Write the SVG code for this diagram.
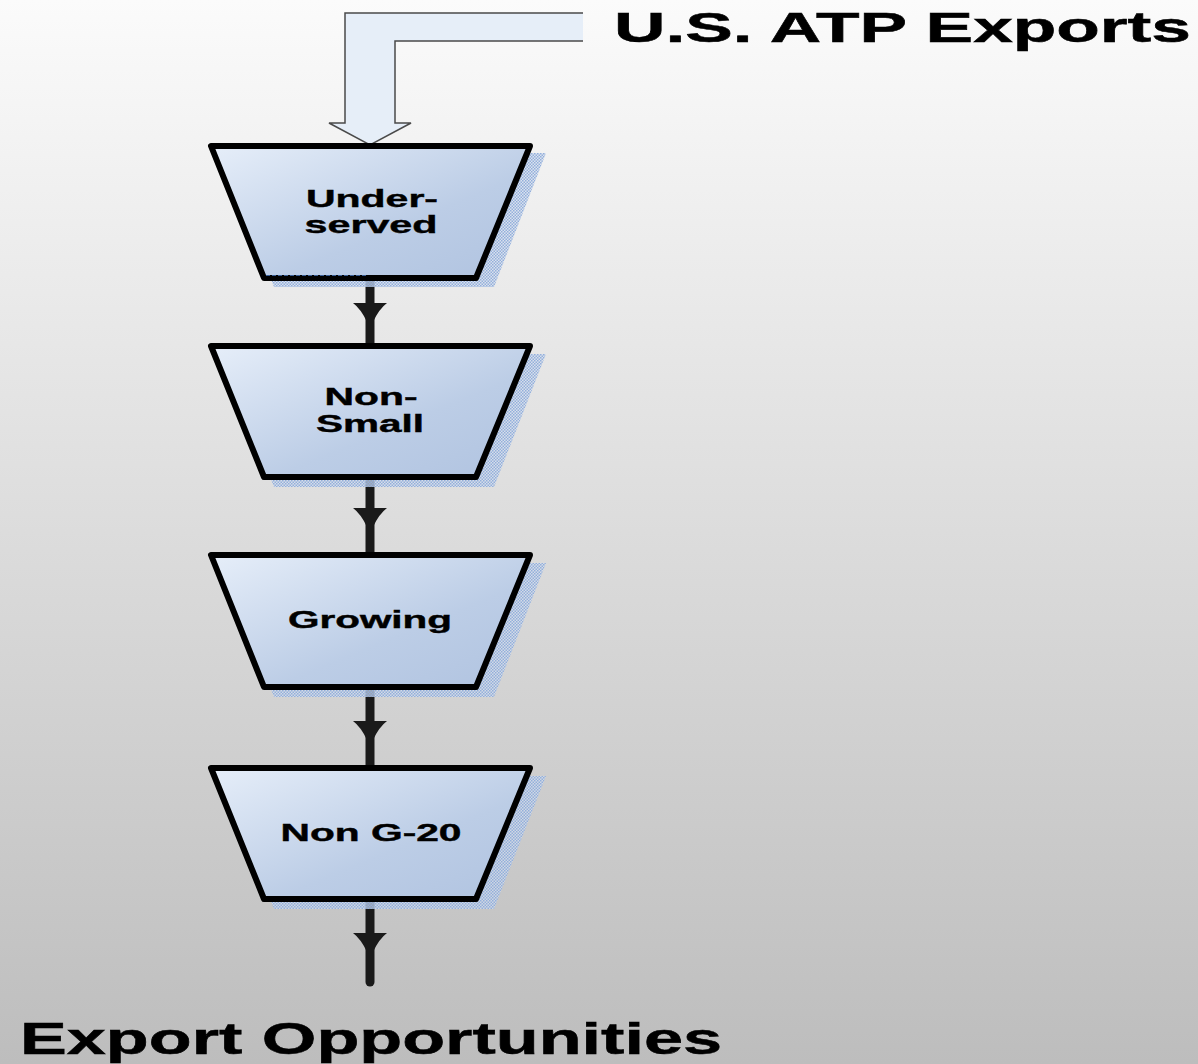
<svg xmlns="http://www.w3.org/2000/svg" width="1198" height="1064" viewBox="0 0 1198 1064">
<defs>
<linearGradient id="bg" x1="0" y1="0" x2="0" y2="1">
<stop offset="0" stop-color="#fbfbfb"/>
<stop offset="1" stop-color="#bdbdbd"/>
</linearGradient>
<linearGradient id="nodefill" x1="0" y1="0" x2="1" y2="1">
<stop offset="0" stop-color="#e6eef9"/>
<stop offset="0.6" stop-color="#bccde6"/>
<stop offset="1" stop-color="#b0c3e0"/>
</linearGradient>
<pattern id="shadowpat" width="3" height="3" patternUnits="userSpaceOnUse">
<rect width="3" height="3" fill="#d3deee" fill-opacity="0.7"/>
<rect width="1.5" height="1.5" fill="#93afdb"/>
<rect x="1.5" y="1.5" width="1.5" height="1.5" fill="#93afdb"/>
</pattern>
<path id="ahead" d="M-17,-9 L17,-9 Q9,-3 3,10 L-3,10 Q-9,-3 -17,-9 Z"/>
</defs>
<style>
.shadow{fill:url(#shadowpat);}
.node{fill:url(#nodefill);stroke:#000;stroke-width:6;stroke-linejoin:round;}
.lbl{font-family:"Liberation Sans",Arial,sans-serif;font-weight:bold;font-size:24px;fill:#000;stroke:#000;stroke-width:0.4;}
.title{font-family:"Liberation Sans",Arial,sans-serif;font-weight:bold;fill:#000;stroke:#000;stroke-width:0.5;}
.conn{stroke:#1a1a1a;stroke-width:9;stroke-linecap:round;fill:none;}
.head{fill:#1a1a1a;}
</style>
<rect width="1198" height="1064" fill="url(#bg)"/>

<g id="input-arrow">
<path d="M583,13 L345,13 L345,123 L329,123 L370,145 L411,123 L395,123 L395,41 L583,41" fill="#e6eef8" stroke="#4a4a4a" stroke-width="1.5"/>
</g>

<g id="connectors">
<line class="conn" x1="370" y1="280" x2="370" y2="344"/>
<use href="#ahead" class="head" x="370" y="312"/>
<line class="conn" x1="370" y1="479" x2="370" y2="553"/>
<use href="#ahead" class="head" x="370" y="517"/>
<line class="conn" x1="370" y1="689" x2="370" y2="766"/>
<use href="#ahead" class="head" x="370" y="730"/>
<line class="conn" x1="370" y1="902" x2="370" y2="982"/>
<use href="#ahead" class="head" x="370" y="942"/>
</g>

<g id="node-underserved">
<polygon class="shadow" points="222,153 546,153 494,287 274,287"/>
<polygon class="node" points="211,146 530,146 476,278 264,278"/>
<line x1="266" y1="275.5" x2="368" y2="275.5" stroke="#3a5f96" stroke-width="1" stroke-dasharray="4,2"/>
<text class="lbl" x="372" y="207" text-anchor="middle" textLength="132" lengthAdjust="spacingAndGlyphs">Under-</text>
<text class="lbl" x="371" y="233" text-anchor="middle" textLength="133" lengthAdjust="spacingAndGlyphs">served</text>
</g>

<g id="node-nonsmall">
<polygon class="shadow" points="222,354 546,354 494,487 274,487"/>
<polygon class="node" points="211,346 530,346 476,477 264,477"/>
<text class="lbl" x="371" y="405" text-anchor="middle" textLength="93" lengthAdjust="spacingAndGlyphs">Non-</text>
<text class="lbl" x="370" y="432" text-anchor="middle" textLength="108" lengthAdjust="spacingAndGlyphs">Small</text>
</g>

<g id="node-growing">
<polygon class="shadow" points="222,563 546,563 494,697 274,697"/>
<polygon class="node" points="211,555 530,555 476,687 264,687"/>
<text class="lbl" x="370" y="628" text-anchor="middle" textLength="164" lengthAdjust="spacingAndGlyphs">Growing</text>
</g>

<g id="node-nong20">
<polygon class="shadow" points="222,776 546,776 494,909 274,909"/>
<polygon class="node" points="211,768 530,768 476,899 264,899"/>
<text class="lbl" x="371" y="841" text-anchor="middle" textLength="181" lengthAdjust="spacingAndGlyphs">Non G-20</text>
</g>

<text class="title" x="614" y="42" font-size="43" textLength="577" lengthAdjust="spacingAndGlyphs">U.S. ATP Exports</text>
<text class="title" x="20" y="1054" font-size="44" textLength="702" lengthAdjust="spacingAndGlyphs">Export Opportunities</text>
</svg>
